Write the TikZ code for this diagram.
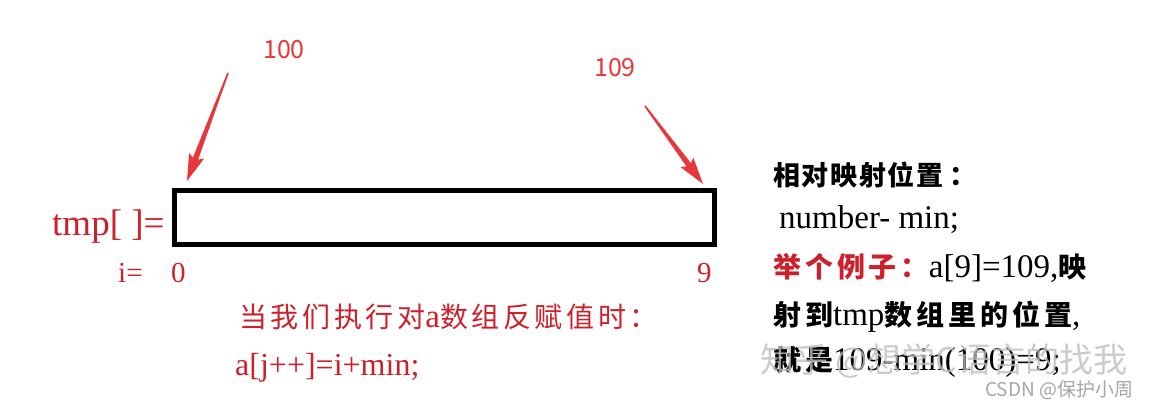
\documentclass[tikz,border=0pt]{standalone}
\usepackage{fontspec}
\setmainfont{Liberation Serif}
\newfontfamily\cjk{Noto Sans CJK SC}
\newfontfamily\cjka{Noto Sans CJK SC}[LetterSpace=6]
\newfontfamily\cjkb{Noto Sans CJK SC}[LetterSpace=14]
\newfontfamily\cjkc{Noto Sans CJK SC}[LetterSpace=13]
\usetikzlibrary{calc}
\definecolor{tred}{RGB}{205,32,42}
\definecolor{ared}{RGB}{232,55,58}
\definecolor{wm}{RGB}{190,190,190}
\tikzset{
  px/.style={font=\fontsize{#1}{#1}\selectfont},
  lab/.style={inner sep=0pt, anchor=base west},
}
\newcommand\zh[1]{{\cjkb\bfseries\fontsize{28}{28}\selectfont #1}}
\newcommand\taperarrow[2]{%
  \fill[ared] ($(#1)!0.8pt!90:(#2)$) -- ($($(#2)!24pt!(#1)$)!2.8pt!90:(#2)$)
    -- ($($(#2)!27pt!(#1)$)!8pt!90:(#2)$) -- (#2)
    -- ($($(#2)!27pt!(#1)$)!8pt!-90:(#2)$) -- ($($(#2)!24pt!(#1)$)!2.8pt!-90:(#2)$)
    -- ($(#1)!0.8pt!-90:(#2)$) -- cycle;}
\begin{document}
\begin{tikzpicture}[x=1pt,y=-1pt]
\useasboundingbox[fill=white] (0,0) rectangle (1155,409);
% array box
\node (box) [draw, line width=5pt, minimum width=539.5pt, minimum height=53.5pt, inner sep=0pt] at (444.25,217.25) {};
\node (tmp) [lab, px=37, text=tred] at (52,235) {tmp[ ]=};
\node (ilab) [lab, px=29, text=tred] at (118,282) {i=};
\node (i0) [lab, px=29, text=tred] at (171,282) {0};
\node (i9) [lab, px=29, text=tred] at (697,282) {9};
% address labels
\node (a100) [lab, px=25, text=ared] at (263,59) {\cjk 100};
\node (a109) [lab, px=25, text=ared] at (594,77) {\cjk 109};
\coordinate (t1) at (228,73);
\coordinate (p1) at (187,181);
\coordinate (t2) at (645,106);
\coordinate (p2) at (703,184);
\taperarrow{t1}{p1}
\taperarrow{t2}{p2}
% bottom text
\node (b1) [lab, px=28, text=tred] at (239,327) {\cjkc 当我们执行对\rmfamily\fontsize{33}{33}\selectfont a\cjkc\fontsize{28}{28}\selectfont 数组反赋值时：};
\node (b2) [lab, px=32, text=tred] at (235,375) {a[j++]=i+min;};
% right text
\node (r1) [lab, px=27] at (773,185) {\cjka\bfseries 相对映射位置\hspace{6pt}：};
\node (r2) [lab, px=33] at (779,228) {number- min;};
\node (r3) [lab, px=33] at (773,277) {{\color{tred}\zh{举个例子：}}a[9]=109,\zh{映}};
\node (r4) [lab, px=33] at (773,325) {\zh{射到}tmp\zh{数组里的位置},};
\node (r5) [lab, px=33] at (773,370) {\zh{就是}109-min(100)=9;};
% watermarks
\node (wm1) [lab, px=34, text=wm, opacity=0.8] at (760,372) {\cjk 知乎 @想学C语言的找我};
\node (wm2) [lab, px=19, text=gray!70] at (985,396) {\cjk CSDN @保护小周};
\end{tikzpicture}
\end{document}
